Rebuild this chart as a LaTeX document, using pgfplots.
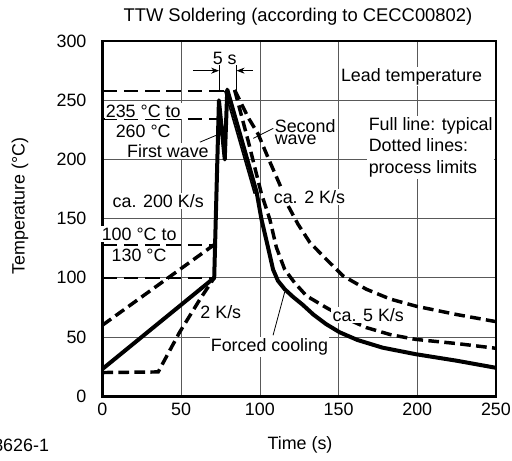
\documentclass[border=0pt]{standalone}
\usepackage{fontspec}
\setmainfont{Liberation Sans}
\usepackage{pgfplots}
\pgfplotsset{compat=1.18}
\usetikzlibrary{arrows.meta}
\begin{document}
\begin{tikzpicture}[font=\fontsize{13.4}{15}\selectfont,
  lab/.style={fill=white, inner sep=1pt},
  dsh/.style={line width=2.6pt, dash pattern=on 8pt off 4pt},
  ref/.style={line width=1.5pt, dash pattern=on 11pt off 5pt}]
\begin{axis}[
  scale only axis, width=295pt, height=266.25pt,
  xmin=0, xmax=250, ymin=0, ymax=300,
  xtick={0,50,...,250}, ytick={0,50,...,300},
  major tick length=0pt,
  grid=major, grid style={black!65, line width=0.5pt},
  axis line style={line width=2pt},
  clip=false,
  /pgf/number format/assume math mode=true,
  yticklabel style={xshift=-8.5pt},
  xticklabel style={yshift=-1.5pt},
]
% reference levels
\addplot[ref] coordinates {(0,258) (77.7,258)};
\addplot[ref] coordinates {(0,234.5) (73.5,234.5)};
\addplot[ref] coordinates {(0,128) (71,128)};
\addplot[ref] coordinates {(0,100) (71,100)};
% typical profile
\addplot[line width=3pt, line join=round] coordinates {
 (0,23) (71,100) (74,250) (77.7,200) (79.3,259) (98,172) (101,149.6) (105.2,125.7)
 (108.4,107) (111.5,97.5) (115.8,90.4) (121,84) (127,77.5) (134,69) (142,61)
 (150.7,54) (162,47.5) (178,41) (199,35.5) (225,30) (250,24)};
\addplot[line width=1.2pt] coordinates {(77.7,258) (96.5,171)};
% process limits
\addplot[dsh] coordinates {(0,60) (71,128)};
\addplot[dsh] coordinates {(0,20) (35.4,20.5) (49,54) (62,82) (71,100)};
\addplot[dsh] coordinates {
 (84,258.7) (92.5,216) (101,171) (106.3,149.6) (110.5,125.7) (115.8,107) (122,96)
 (129.6,84.8) (142,75) (155,65.5) (167.6,58) (183,52) (199,48) (225,44.5) (250,40.5)};
\addplot[dsh] coordinates {
 (84,258.7) (92.5,235.6) (98.9,221.5) (105.7,200) (112.6,179) (117.9,161) (124.2,145.4)
 (131.7,130) (141.2,117) (152.8,101.7) (167.6,90.4) (183,82) (199.4,76) (225,69) (250,63)};
% 5 s marker
\draw[line width=0.6pt] (axis cs:74.1,257) -- (axis cs:74.1,280);
\draw[line width=0.6pt] (axis cs:85.2,257) -- (axis cs:85.2,280);
\draw[line width=0.6pt, -{Stealth[length=6pt,width=4.5pt]}] (axis cs:57.4,275) -- (axis cs:74.1,275);
\draw[line width=0.6pt, -{Stealth[length=6pt,width=4.5pt]}] (axis cs:95.5,275) -- (axis cs:85.2,275);
\node at (axis cs:77.7,285.4) {5 s};
% pointers
\draw[line width=0.6pt] (axis cs:61.9,214.6) -- (axis cs:77.8,223.5);
\draw[line width=0.6pt] (axis cs:108.5,226.2) -- (axis cs:95.8,217.8);
\draw[line width=0.6pt] (axis cs:108.4,51.5) -- (axis cs:115.8,88.1);
% labels
\node[lab] at (axis cs:196.4,270) {Lead temperature};
\node[lab, anchor=west, align=left, font=\fontsize{13.4}{16.4}\selectfont] at (axis cs:168.2,210.2) {Full line: typical\\Dotted lines:\\process limits};
\node[anchor=west, align=left, inner sep=1pt, font=\fontsize{13.4}{9.5}\selectfont] at (axis cs:108.5,223) {Second\\wave};
\node[lab] at (axis cs:131.5,168) {ca. 2 K/s};
\node[lab] at (axis cs:35.4,165) {ca. 200 K/s};
\node[lab] at (axis cs:25.9,241) {235 °C to};
\node[lab] at (axis cs:25.9,224) {260 °C};
\node[lab] at (axis cs:41.6,207.4) {First wave};
\node[lab] at (axis cs:23.3,137) {100 °C to};
\node[lab] at (axis cs:23.3,119) {130 °C};
\node[lab] at (axis cs:75.2,71.2) {2 K/s};
\node[lab] at (axis cs:106.1,41.7) {Forced cooling};
\node[lab] at (axis cs:168.9,68.5) {ca. 5 K/s};
% outer texts
\node[font=\fontsize{13.8}{15}\selectfont] at (axis cs:124.2,320.3) {TTW Soldering (according to CECC00802)};
\node[rotate=90] at (axis cs:-52.4,160.7) {Temperature (°C)};
\node at (axis cs:125.5,-41.4) {Time (s)};
\node[anchor=east] at (axis cs:-31,-41.4) {48626-1};
\coordinate (BL) at (axis cs:-65.1,-54.1);
\coordinate (TR) at (axis cs:260.2,334.7);
\end{axis}
\pgfresetboundingbox
\path[use as bounding box] (BL) rectangle (TR);
\end{tikzpicture}
\end{document}
